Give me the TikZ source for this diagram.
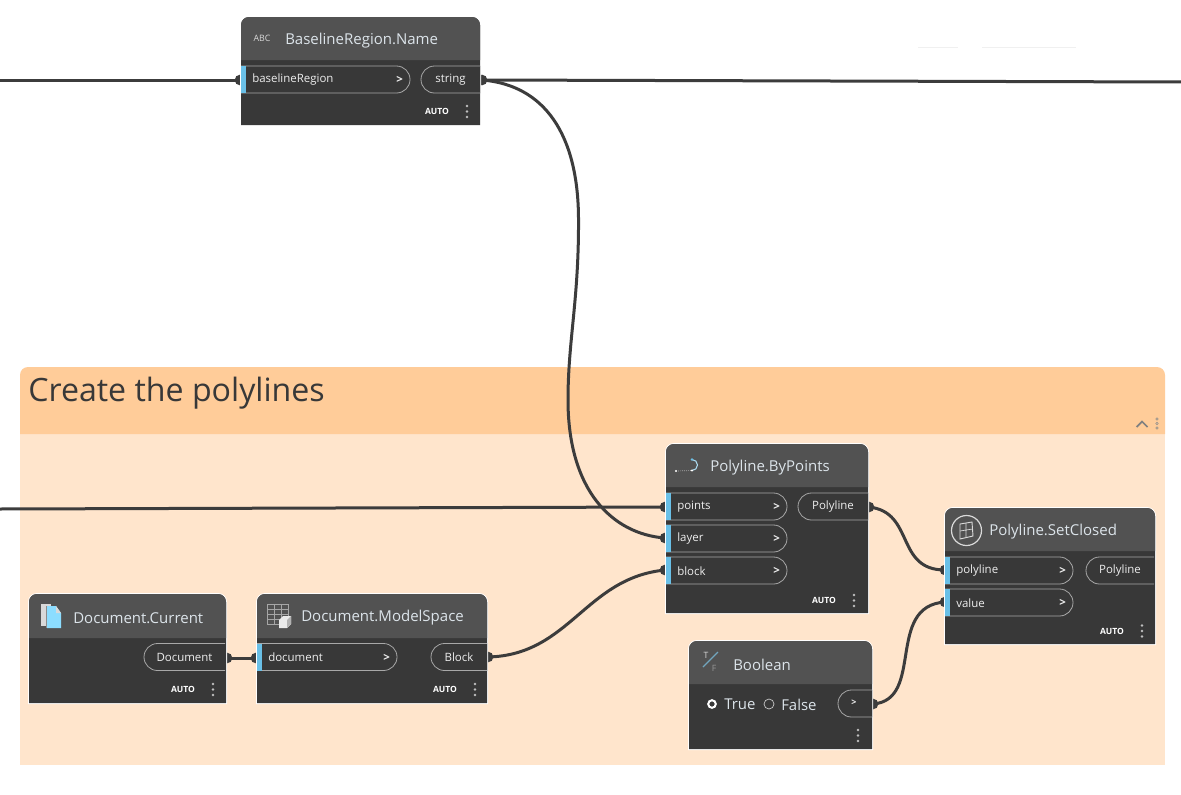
\documentclass[tikz,border=0pt]{standalone}
\usepackage{fontspec}
\setmainfont{Open Sans}
\definecolor{grouphead}{HTML}{FFCC99}
\definecolor{groupbody}{HTML}{FFE5CC}
\definecolor{nodebody}{HTML}{383838}
\definecolor{nodehead}{HTML}{525252}
\definecolor{wire}{HTML}{3C3C3C}
\definecolor{portblue}{HTML}{6AC0E7}
\definecolor{pillline}{HTML}{A8A8A8}
\definecolor{titletext}{HTML}{DCE4EA}
\definecolor{porttext}{HTML}{EEEEEE}
\tikzset{
  wireline/.style={draw=wire,line width=2.25pt,line cap=round},
  pinblob/.style={circle,fill=wire,inner sep=0pt,minimum size=8pt},
  titlelabel/.style={anchor=west,inner sep=0pt,text=titletext,font=\fontsize{11.25}{13}\selectfont},
  portlabel/.style={anchor=west,inner sep=0pt,text=porttext,font=\fontsize{8.6}{10}\selectfont},
  autolabel/.style={anchor=center,inner sep=0pt,text=white,font=\bfseries\fontsize{6.4}{8}\selectfont},
  pillshape/.style={draw=pillline,line width=0.6pt,fill=nodebody},
  dotmark/.style={fill=#1,circle,inner sep=0pt,minimum size=2pt},
}
% body: name x1 y1 x2 y2 ymid titlex title
\newcommand{\dynbody}[8]{%
  \fill[white] (#2-1,#5+1) -- (#2-1,#3+8) arc[start angle=180,end angle=270,radius=9] -- (#4-8,#3-1) arc[start angle=270,end angle=360,radius=9] -- (#4+1,#5+1) -- cycle;
  \fill[nodebody] (#2,#5) -- (#2,#3+8) arc[start angle=180,end angle=270,radius=8] -- (#4-8,#3) arc[start angle=270,end angle=360,radius=8] -- (#4,#5) -- cycle;
  \fill[nodehead] (#2,#6) -- (#2,#3+8) arc[start angle=180,end angle=270,radius=8] -- (#4-8,#3) arc[start angle=270,end angle=360,radius=8] -- (#4,#6) -- cycle;
  \node[titlelabel] (#1-title) at (#7,#3+24) {#8};
}
% in port: name x1 y1 x2 label
\newcommand{\inport}[5]{%
  \draw[pillshape] (#2,#3) -- (#4-13.5,#3) arc[start angle=-90,end angle=90,radius=13.5] -- (#2,#3+27);
  \fill[portblue] (#2,#3) rectangle (#2+5,#3+27);
  \node[portlabel] (#1) at (#2+11,#3+14) {#5};
  \node[portlabel,font=\bfseries\fontsize{8.6}{10}\selectfont] (#1-gt) at (#4-14,#3+14) {>};
}
% out port: name x1 y1 x2 label
\newcommand{\outport}[5]{%
  \draw[pillshape] (#4,#3) -- (#2+13.5,#3) arc[start angle=270,end angle=90,radius=13.5] -- (#4,#3+27);
  \node[portlabel,anchor=center] (#1) at ({(#2+#4)/2},#3+14) {#5};
}
\newcommand{\autodots}[3]{%
  \node[autolabel] (#1-auto) at (#2,#3) {AUTO};
  \node[dotmark=white!75!black] (#1-da) at (#2+30,#3-5.5) {};
  \node[dotmark=white!75!black] (#1-db) at (#2+30,#3) {};
  \node[dotmark=white!75!black] (#1-dc) at (#2+30,#3+5.5) {};
}
\begin{document}
\begin{tikzpicture}[x=0.75pt,y=-0.75pt]
\useasboundingbox (0,0) rectangle (1181,794);
\fill[white] (0,0) rectangle (1181,794);
\draw[black!6,line width=0.6pt] (918,47) -- (958,47) (982,47) -- (1076,47);

% group
\fill[groupbody] (20,430) rectangle (1165,765);
\fill[grouphead] (20,434) -- (20,375) arc[start angle=180,end angle=270,radius=8] -- (1157,367) arc[start angle=270,end angle=360,radius=8] -- (1165,434) -- cycle;
\node[anchor=west,inner sep=0pt,text=black!78,font=\fontsize{24.1}{28}\selectfont] (grouptitle) at (28,393.5) {Create the polylines};
\draw[draw=black!50,line width=1.3pt] (1136.5,427) -- (1142,421.5) -- (1147.5,427);
\foreach \yy in {419,423.5,428}{\draw[black!45,line width=0.4pt,fill=grouphead] (1157,\yy) circle[radius=1.3];}

% pins
\node[pinblob] (p-base) at (240,80) {};
\node[pinblob] (p-string) at (482,80) {};
\node[pinblob] (p-points) at (665,507) {};
\node[pinblob] (p-layer) at (665,538) {};
\node[pinblob] (p-block) at (665,570) {};
\node[pinblob] (p-polyout) at (869,507) {};
\node[pinblob] (p-closedin) at (945,570) {};
\node[pinblob] (p-value) at (945,602) {};
\node[pinblob] (p-bool) at (873,704) {};
\node[pinblob] (p-docout) at (227,658) {};
\node[pinblob] (p-docin) at (256,658) {};
\node[pinblob] (p-blockout) at (488,657) {};
\coordinate (free-a) at (-3,80);
\coordinate (free-b) at (1184,82);
\coordinate (free-c) at (-3,509);

% connectors
\draw[wireline] (free-a) -- (p-base.center);
\draw[wireline] (p-string.center) -- (free-b);
\draw[wireline] (free-c) -- (p-points.center);
\draw[wireline] (p-string.center) .. controls (545,85) and (578,135) .. (578.5,218) .. controls (579,300) and (568,340) .. (568,400) .. controls (568,490) and (612,534) .. (p-layer.center);
\draw[wireline] (p-docout.center) -- (p-docin.center);
\draw[wireline] (p-blockout.center) .. controls (570,655) and (585,578) .. (p-block.center);
\draw[wireline] (p-polyout.center) .. controls (915,512) and (895,570) .. (p-closedin.center);
\draw[wireline] (p-bool.center) .. controls (925,700) and (885,606) .. (p-value.center);

% BaselineRegion.Name
\dynbody{base}{241}{17}{480}{125}{60}{285}{BaselineRegion.Name}
\inport{base-in}{241}{66}{410}{baselineRegion}
\outport{base-out}{421}{66}{480}{string}
\autodots{base}{437}{111.5}
\node[anchor=center,inner sep=0pt,text=white!85!black,font=\fontsize{6.6}{8}\selectfont] (base-icon) at (262,38.5) {ABC};

% Polyline.ByPoints
\dynbody{bypts}{666}{444}{868}{613}{487}{710}{Polyline.ByPoints}
\inport{bypts-a}{666}{493}{787}{points}
\inport{bypts-b}{666}{525}{787}{layer}
\inport{bypts-c}{666}{557}{787}{block}
\outport{bypts-out}{798}{493}{868}{Polyline}
\autodots{bypts}{824}{600.5}
\draw[white!85!black,line width=0.5pt,densely dotted] (676,471) -- (692,470.5);
\draw[portblue!55!white,line width=0.8pt] (692,459.5) arc[start angle=-90,end angle=90,radius=5.5];
\fill[portblue] (692,459.5) circle[radius=1.3];
\fill[white] (692,470.5) circle[radius=1.1];
\fill[white] (676,471) circle[radius=1.1];

% Polyline.SetClosed
\dynbody{closed}{945}{508}{1155}{644}{551}{989}{Polyline.SetClosed}
\inport{closed-a}{945}{557}{1073}{polyline}
\inport{closed-b}{945}{589}{1073}{value}
\outport{closed-out}{1086}{557}{1154}{Polyline}
\autodots{closed}{1112}{631}
\draw[white!85!black,line width=0.9pt] (966.5,530.5) circle[radius=15];
\draw[white!85!black,line width=0.7pt] (960,524) -- (972,522) -- (973,536) -- (960,539) -- cycle;
\draw[white!85!black,line width=0.5pt] (966,523) -- (966,537.5) (960,531) -- (972.5,529);

% Document.Current
\dynbody{cur}{29}{594}{226}{703}{638}{73}{Document.Current}
\outport{cur-out}{144}{643.5}{225}{Document}
\autodots{cur}{183}{689.5}
\fill[white!85!black] (41,604) -- (51,604) -- (51,626) -- (41,626) -- cycle;
\fill[white!55!black] (46,606) -- (46,628) -- (48,628) -- (48,606) -- cycle;
\fill[blue!30!cyan!45!white] (47,606) -- (56,606) -- (61,613) -- (61,628) -- (47,628) -- cycle;
\fill[white!85!black] (56,606) -- (61,613) -- (56,613) -- cycle;

% Document.ModelSpace
\dynbody{msp}{257}{594}{487}{703}{638}{301}{Document.ModelSpace}
\inport{msp-in}{257}{643.5}{397}{document}
\outport{msp-out}{431}{643.5}{487}{Block}
\autodots{msp}{445}{689.5}
\draw[white!65!black,line width=0.6pt] (267,604) rectangle (288,624);
\draw[white!65!black,line width=0.6pt] (267,609) -- (288,609) (267,614) -- (288,614) (267,619) -- (288,619) (274,604) -- (274,624) (281,604) -- (281,624);
\fill[white!92!black] (279,620) -- (283,616) -- (291,616) -- (291,624) -- (287,628) -- (279,628) -- cycle;
\fill[white!70!black] (287,620) -- (291,616) -- (291,624) -- (287,628) -- cycle;

% Boolean
\dynbody{bool}{689}{641}{872}{749}{684}{733}{Boolean}
\outport{bool-out}{838}{690}{872}{}
\node[portlabel,anchor=center,font=\bfseries\fontsize{6.8}{8}\selectfont] (bool-gt) at (854,703) {>};
\draw[white,line width=1.5pt] (712,704) circle[radius=3.8];
\node[anchor=west,inner sep=0pt,text=titletext,font=\fontsize{11.2}{12}\selectfont] (bool-true) at (724,704.5) {True};
\draw[white!80!black,line width=0.5pt] (769,704) circle[radius=5];
\node[anchor=west,inner sep=0pt,text=titletext,font=\fontsize{11.2}{12}\selectfont] (bool-false) at (781,704.5) {False};
\node[dotmark=white!75!black] (bool-da) at (858,730) {};
\node[dotmark=white!75!black] (bool-db) at (858,735.5) {};
\node[dotmark=white!75!black] (bool-dc) at (858,741) {};
\draw[portblue!60!gray,line width=0.9pt] (703,667) -- (718,652);
\node[anchor=center,inner sep=0pt,text=white!85!black,font=\fontsize{6.5}{8}\selectfont] (bool-t) at (706,655) {T};
\node[anchor=center,inner sep=0pt,text=white!60!black,font=\fontsize{6.5}{8}\selectfont] (bool-f) at (714,668) {F};
\end{tikzpicture}
\end{document}
